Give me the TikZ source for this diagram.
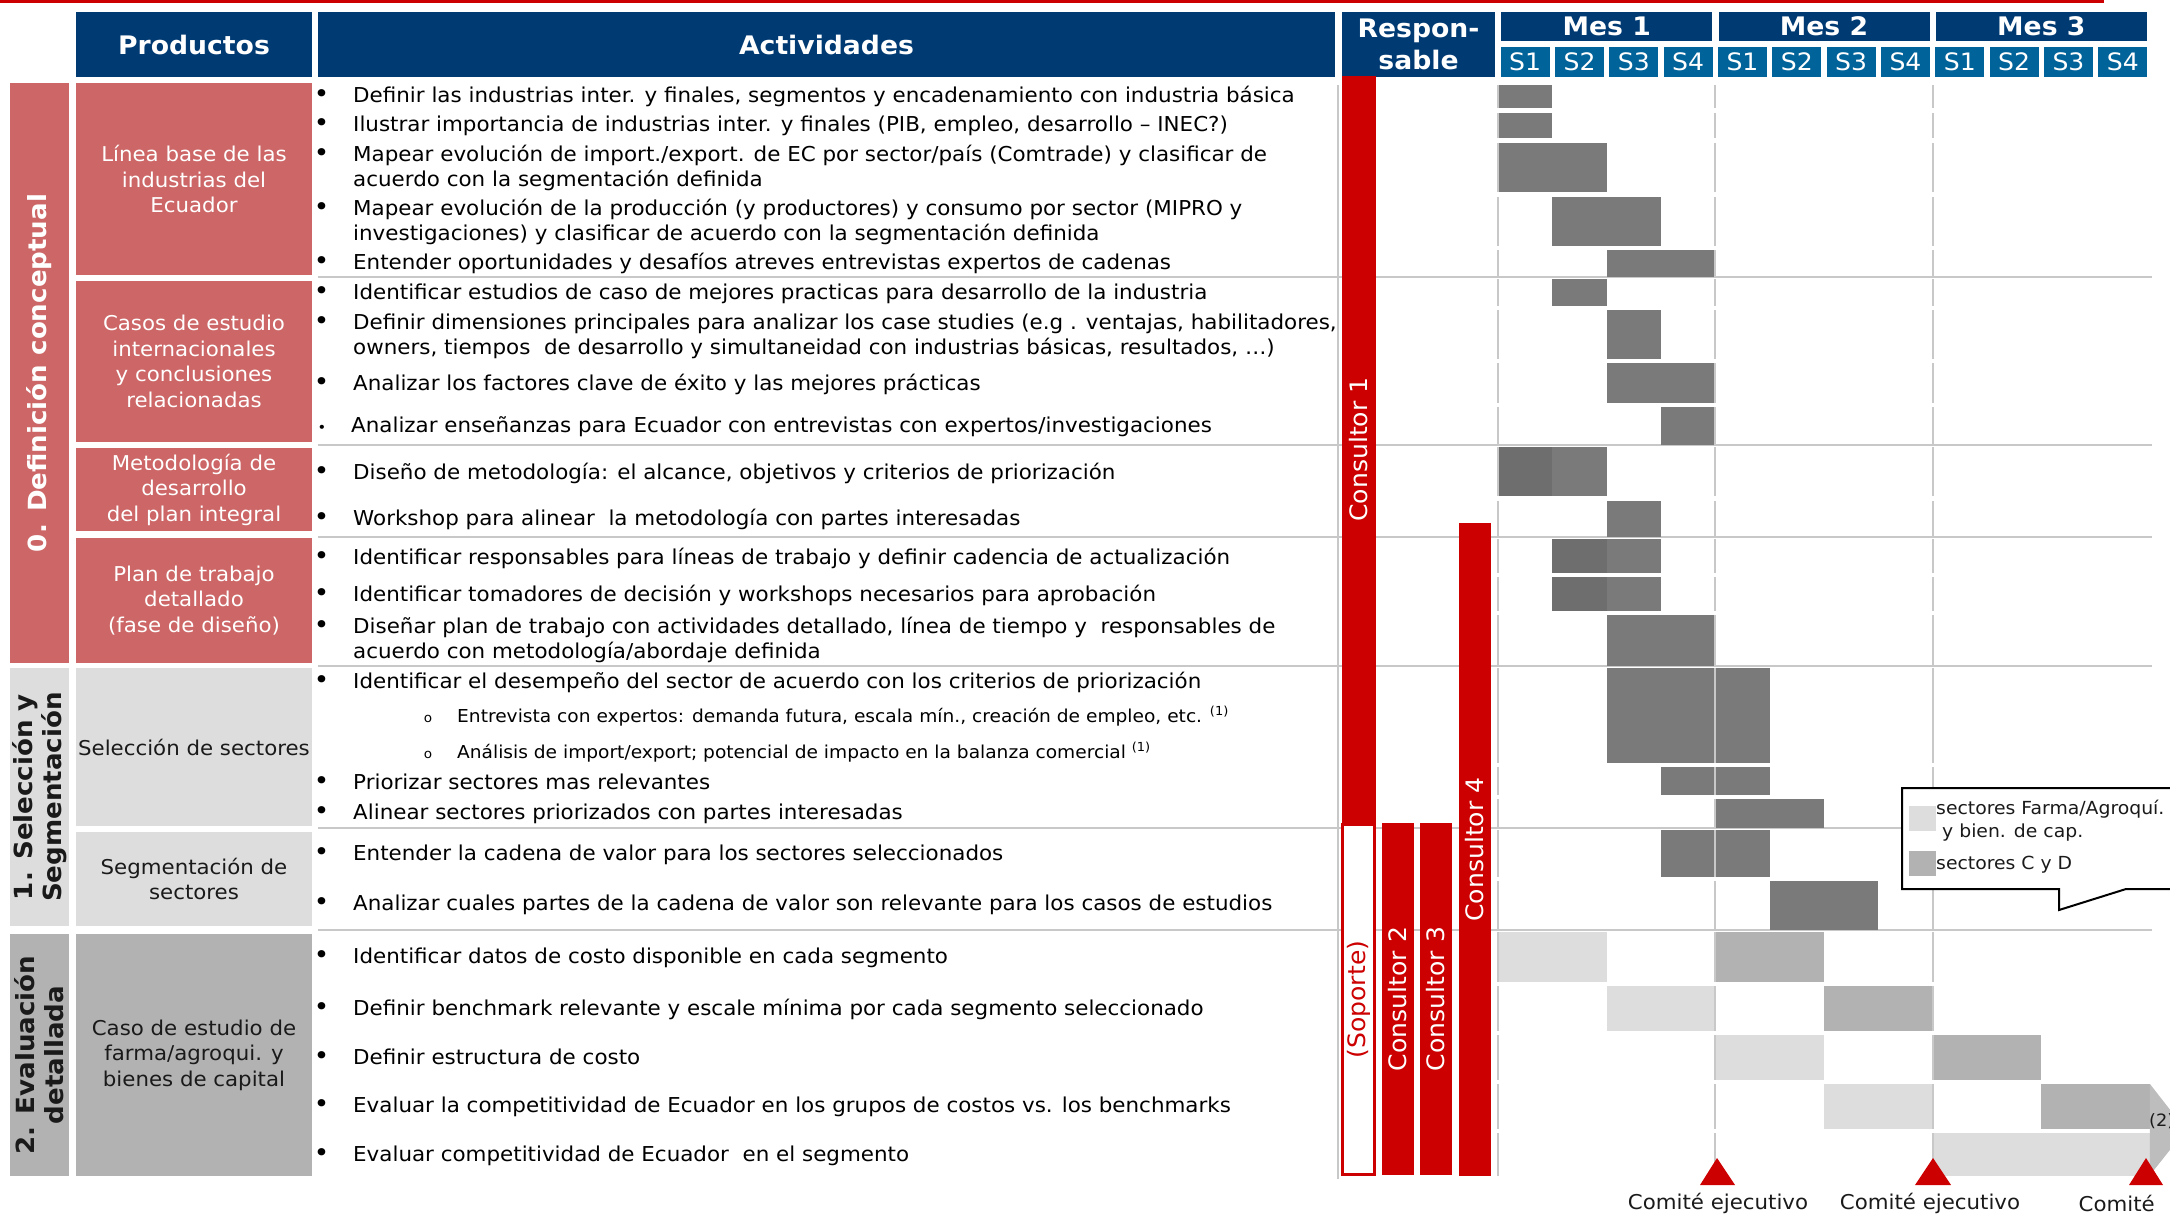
\documentclass[tikz,border=0pt]{standalone}
\usepackage{fontspec}
\setmainfont[FakeStretch=1.045]{DejaVu Sans}
\definecolor{navy}{RGB}{0,58,115}
\definecolor{weekblue}{RGB}{0,99,153}
\definecolor{rosered}{RGB}{205,102,102}
\definecolor{barred}{RGB}{204,0,0}
\definecolor{lightbar}{RGB}{221,221,221}
\definecolor{midbar}{RGB}{178,178,178}
\definecolor{darkbar}{RGB}{122,122,122}
\definecolor{deepbar}{RGB}{110,110,110}
\definecolor{gridgray}{RGB}{200,200,200}
\definecolor{inkgray}{RGB}{26,26,26}
\newcommand{\actfont}{\fontsize{20.5}{25}\selectfont}
\newcommand{\subfont}{\fontsize{17.8}{20}\selectfont}
\newcommand{\prodfont}{\fontsize{20.4}{25.5}\selectfont}
\newcommand{\headfont}{\fontsize{25.5}{32}\selectfont\bfseries}
\newcommand{\phasefont}{\fontsize{25}{29}\selectfont\bfseries}
\newcommand{\bul}{\llap{{\fontsize{25}{25}\selectfont •}\hspace{24pt}}}
\newcommand{\subbul}{\llap{{\fontsize{13}{13}\selectfont o}\hspace{25pt}}}

\begin{document}
\begin{tikzpicture}[x=1pt,y=-1pt,
    head/.style={fill=navy,text=white,font=\headfont,inner sep=0pt,align=center},
    weekcell/.style={fill=weekblue,text=white,font=\fontsize{24}{24}\selectfont,inner sep=0pt,minimum width=49pt,minimum height=30pt},
    prod/.style={inner sep=0pt,align=center,font=\prodfont,minimum width=236pt},
    phase/.style={rotate=90,inner sep=0pt,align=center,font=\phasefont,minimum height=59pt},
    act/.style={anchor=west,inner sep=0pt,align=left,font=\actfont,text=black},
    sub/.style={anchor=west,inner sep=0pt,font=\subfont,text=black},
    resp/.style={rotate=90,inner sep=0pt,fill=barred,text=white,font=\fontsize{24}{24}\selectfont,minimum height=32pt},
    sepline/.style={draw=gridgray,line width=2.5pt},
    gridline/.style={draw=gridgray,line width=2pt},
    legtext/.style={anchor=west,inner sep=0pt,align=left,font=\fontsize{18}{23}\selectfont,text=inkgray},
    comite/.style={font=\fontsize{20.4}{20}\selectfont,inner sep=0pt,text=inkgray}]
    \useasboundingbox (0,0) rectangle (2170,1219);
    \draw[barred,line width=3pt] (0,1.5) -- (2104,1.5);

    % encabezados
    \node[head,minimum width=236pt,minimum height=65pt] (productos) at (194,44.5) {Productos};
    \node[head,minimum width=1017pt,minimum height=65pt] (actividades) at (826.5,44.5) {Actividades};
    \node[head,minimum width=153pt,minimum height=65pt] (responsable) at (1418.5,44.5) {Respon-\\sable};

    % fases
    \node[phase,fill=rosered,text=white,minimum width=580pt] (fase0) at (39.5,373) {0. Definición conceptual};
    \node[phase,fill=lightbar,text=inkgray,minimum width=258pt] (fase1) at (39.5,797) {1. Selección y\\Segmentación};
    \node[phase,fill=midbar,text=inkgray,minimum width=242pt] (fase2) at (39.5,1055) {2. Evaluación\\detallada};

    % productos
    \node[prod,fill=rosered,text=white,minimum height=192pt] (linea) at (194,179) {Línea base de las\\industrias del\\Ecuador};
    \node[prod,fill=rosered,text=white,minimum height=161pt] (casos) at (194,361.5) {Casos de estudio\\internacionales\\y conclusiones\\relacionadas};
    \node[prod,fill=rosered,text=white,minimum height=83pt] (metodo) at (194,489.5) {Metodología de\\desarrollo\\del plan integral};
    \node[prod,fill=rosered,text=white,minimum height=125pt] (plan) at (194,600.5) {Plan de trabajo\\detallado\\(fase de diseño)};
    \node[prod,fill=lightbar,text=inkgray,minimum height=158pt] (seleccion) at (194,747) {Selección de sectores};
    \node[prod,fill=lightbar,text=inkgray,minimum height=94pt] (segmento) at (194,879) {Segmentación de\\sectores};
    \node[prod,fill=midbar,text=inkgray,minimum height=242pt] (farma) at (194,1055) {Caso de estudio de\\farma/agroqui. y\\bienes de capital};

    % separadores
    \foreach \y in {277,445,537,666,828,930}
        \draw[sepline] (318,\y) -- (2152,\y);
    \draw[gridline] (1338,85) -- (1338,1179);

    % cronograma
    \begin{scope}[xshift=1498pt,x=54.33pt]
        \node[head,minimum width=211pt,minimum height=29pt] (mes1) at (2,26.5) {Mes 1};
        \node[head,minimum width=211pt,minimum height=29pt] (mes2) at (6,26.5) {Mes 2};
        \node[head,minimum width=211pt,minimum height=29pt] (mes3) at (10,26.5) {Mes 3};
        \foreach \k in {0,...,11} {
            \pgfmathtruncatemacro\wk{mod(\k,4)+1}
            \node[weekcell] (s\k) at (\k+0.5,62) {S\wk};
        }
        \fill[darkbar] (0,85) rectangle (1,108);
        \fill[darkbar] (0,113) rectangle (1,138);
        \fill[darkbar] (0,143) rectangle (2,192);
        \fill[darkbar] (1,197) rectangle (3,246);
        \fill[darkbar] (2,250) rectangle (4,277);
        \fill[darkbar] (1,279) rectangle (2,306);
        \fill[darkbar] (2,310) rectangle (3,359);
        \fill[darkbar] (2,363) rectangle (4,403);
        \fill[darkbar] (3,407) rectangle (4,445);
        \fill[deepbar] (0,447) rectangle (1,496);
        \fill[darkbar] (1,447) rectangle (2,496);
        \fill[darkbar] (2,501) rectangle (3,537);
        \fill[deepbar] (1,539) rectangle (2,573);
        \fill[darkbar] (2,539) rectangle (3,573);
        \fill[deepbar] (1,577) rectangle (2,611);
        \fill[darkbar] (2,577) rectangle (3,611);
        \fill[darkbar] (2,615) rectangle (4,666);
        \fill[darkbar] (2,668) rectangle (5,763);
        \fill[darkbar] (3,767) rectangle (5,795);
        \fill[darkbar] (4,799) rectangle (6,828);
        \fill[darkbar] (3,830) rectangle (5,877);
        \fill[darkbar] (5,881) rectangle (7,930);
        \fill[lightbar] (0,932) rectangle (2,982);
        \fill[midbar] (4,932) rectangle (6,982);
        \fill[lightbar] (2,986) rectangle (4,1031);
        \fill[midbar] (6,986) rectangle (8,1031);
        \fill[lightbar] (4,1035) rectangle (6,1080);
        \fill[midbar] (8,1035) rectangle (10,1080);
        \fill[lightbar] (6,1084) rectangle (8,1129);
        \fill[midbar] (10,1084) rectangle (12,1129);
        \fill[lightbar] (8,1133) rectangle (12,1176);
        \fill[midbar!85!white] (12,1084) -- (12.66,1130) -- (12,1175) -- cycle;
        \foreach \t/\b in {85/108,113/138,143/192,197/246,250/277,279/306,310/359,363/403,407/445,447/496,501/537,539/573,577/611,615/666,668/763,767/795,799/828,830/877,881/930,932/982,986/1031,1035/1080,1084/1129,1133/1176}
            \draw[gridline] (0,\t) -- (0,\b) (4,\t) -- (4,\b) (8,\t) -- (8,\b);
    \end{scope}

    % responsables
    \node[resp,minimum width=747pt,minimum height=34pt] (cons1) at (1359,449.5) {Consultor 1};
    \node[resp,fill=white,draw=barred,line width=3pt,text=barred,minimum width=350pt] (soporte) at (1358.5,999.5) {(Soporte)};
    \node[resp,minimum width=352pt] (cons2) at (1398,999) {Consultor 2};
    \node[resp,minimum width=352pt] (cons3) at (1436,999) {Consultor 3};
    \node[resp,minimum width=653pt] (cons4) at (1475,849.5) {Consultor 4};

    % actividades
    \node[act] (a1) at (353,96) {\bul Definir las industrias inter. y finales, segmentos y encadenamiento con industria básica};
    \node[act] (a2) at (353,126) {\bul Ilustrar importancia de industrias inter. y finales (PIB, empleo, desarrollo – INEC?)};
    \node[act] (a3) at (353,168) {\bul Mapear evolución de import./export. de EC por sector/país (Comtrade) y clasificar de\\acuerdo con la segmentación definida};
    \node[act] (a4) at (353,222) {\bul Mapear evolución de la producción (y productores) y consumo por sector (MIPRO y\\investigaciones) y clasificar de acuerdo con la segmentación definida};
    \node[act] (a5) at (353,263) {\bul Entender oportunidades y desafíos atreves entrevistas expertos de cadenas};
    \node[act] (a6) at (353,294) {\bul Identificar estudios de caso de mejores practicas para desarrollo de la industria};
    \node[act] (a7) at (353,336) {\bul Definir dimensiones principales para analizar los case studies (e.g . ventajas, habilitadores,\\owners, tiempos\ \ de desarrollo y simultaneidad con industrias básicas, resultados, …)};
    \node[act] (a8) at (353,384) {\bul Analizar los factores clave de éxito y las mejores prácticas};
    \node[act] (a9) at (351,427) {\llap{{\fontsize{14}{14}\selectfont •}\hspace{25pt}}Analizar enseñanzas para Ecuador con entrevistas con expertos/investigaciones};
    \node[act] (a10) at (353,473) {\bul Diseño de metodología: el alcance, objetivos y criterios de priorización};
    \node[act] (a11) at (353,519) {\bul Workshop para alinear\ \ la metodología con partes interesadas};
    \node[act] (a12) at (353,558) {\bul Identificar responsables para líneas de trabajo y definir cadencia de actualización};
    \node[act] (a13) at (353,595) {\bul Identificar tomadores de decisión y workshops necesarios para aprobación};
    \node[act] (a14) at (353,640) {\bul Diseñar plan de trabajo con actividades detallado, línea de tiempo y\ \ responsables de\\acuerdo con metodología/abordaje definida};
    \node[act] (a15) at (353,682) {\bul Identificar el desempeño del sector de acuerdo con los criterios de priorización};
    \node[sub] (a15a) at (457,716) {\subbul Entrevista con expertos: demanda futura, escala mín., creación de empleo, etc. \textsuperscript{(1)}};
    \node[sub] (a15b) at (457,752) {\subbul Análisis de import/export; potencial de impacto en la balanza comercial \textsuperscript{(1)}};
    \node[act] (a16) at (353,782) {\bul Priorizar sectores mas relevantes};
    \node[act] (a17) at (353,814) {\bul Alinear sectores priorizados con partes interesadas};
    \node[act] (a18) at (353,855) {\bul Entender la cadena de valor para los sectores seleccionados};
    \node[act] (a19) at (353,905) {\bul Analizar cuales partes de la cadena de valor son relevante para los casos de estudios};
    \node[act] (a20) at (353,958) {\bul Identificar datos de costo disponible en cada segmento};
    \node[act] (a21) at (353,1009) {\bul Definir benchmark relevante y escale mínima por cada segmento seleccionado};
    \node[act] (a22) at (353,1057) {\bul Definir estructura de costo};
    \node[act] (a23) at (353,1107) {\bul Evaluar la competitividad de Ecuador en los grupos de costos vs. los benchmarks};
    \node[act] (a24) at (353,1156) {\bul Evaluar competitividad de Ecuador\ \ en el segmento};

    % leyenda
    \filldraw[fill=white,draw=black,line width=2pt] (1902,788) -- (2180,788) -- (2180,889) -- (2126,889) -- (2059,910) -- (2059,889) -- (1902,889) -- cycle;
    \fill[lightbar] (1909,806) rectangle (1936,831);
    \fill[midbar] (1909,851) rectangle (1936,876);
    \node[legtext] (leg1) at (1936,820.5) {sectores Farma/Agroquí.\\\hspace{6pt}y bien. de cap.};
    \node[legtext] (leg2) at (1936,865) {sectores C y D};
    \node[inner sep=0pt,anchor=west,font=\fontsize{17}{17}\selectfont,text=inkgray] (nota2) at (2149,1121) {(2)};

    % comites
    \fill[barred] (1700,1185) -- (1717,1158) -- (1735,1185) -- cycle;
    \fill[barred] (1915,1185) -- (1933,1158) -- (1951,1185) -- cycle;
    \fill[barred] (2129,1185) -- (2146,1158) -- (2163,1185) -- cycle;
    \node[comite] (com1) at (1718,1203) {Comité ejecutivo};
    \node[comite] (com2) at (1930,1203) {Comité ejecutivo};
    \node[comite,anchor=east] (com3) at (2155,1203) {Comité};
\end{tikzpicture}
\end{document}
